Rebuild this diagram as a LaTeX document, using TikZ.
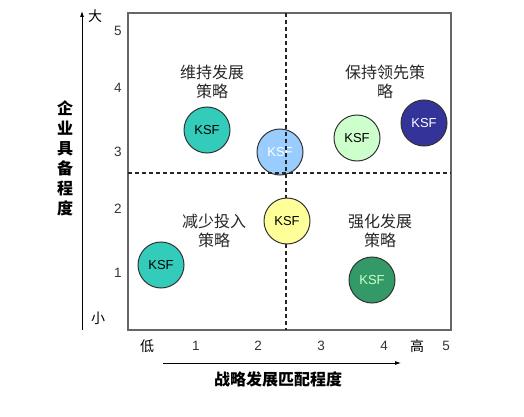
\documentclass[tikz,border=0pt]{standalone}
\usepackage{fontspec}
\setmainfont{Liberation Sans}
\newfontfamily\cjk{Noto Sans CJK SC}
\usetikzlibrary{arrows.meta}
\definecolor{tealk}{RGB}{51,204,187}
\definecolor{skyk}{RGB}{153,204,255}
\definecolor{mintk}{RGB}{204,255,204}
\definecolor{navyk}{RGB}{51,51,153}
\definecolor{lemonk}{RGB}{255,255,153}
\definecolor{forestk}{RGB}{51,153,102}

\begin{document}
\begin{tikzpicture}[x=1pt, y=-1pt,
    ksf/.style={circle, draw=black!80, line width=1pt, minimum size=46pt, inner sep=0pt,
        font=\fontsize{13}{13}\selectfont},
    tick/.style={font=\fontsize{13.5}{13.5}\selectfont, text=black!80},
    quad/.style={font=\cjk\fontsize{16}{19}\selectfont, align=center, text=black!85},
    ends/.style={font=\cjk\fontsize{14}{14}\selectfont},
    axis/.style={line width=0.8pt, -{Latex[length=6pt, width=4pt]}},
    split/.style={line width=1.2pt, dash pattern=on 4pt off 3pt, black!85}
]
    \useasboundingbox (0,0) rectangle (524,417);

    % frame of the matrix
    \draw[black!60, line width=1.3pt] (128,13) rectangle (451,330);

    \node[ksf, fill=skyk, text=white] (midtop) at (280,152) {KSF};

    \draw[split] (286,13) -- (286,330);
    \draw[split] (128,173) -- (451,173);

    % axes
    \coordinate (yfoot) at (82,330);
    \coordinate (yhead) at (82,11);
    \coordinate (xfoot) at (163,363);
    \coordinate (xhead) at (401,363);
    \draw[axis] (yfoot) -- (yhead);
    \draw[axis] (xfoot) -- (xhead);

    \node[ends] (big) at (95,16) {大};
    \node[ends] (small) at (98,318) {小};
    \node[ends] (low) at (147,346) {低};
    \node[ends] (high) at (417,346) {高};

    \node[font=\cjk\bfseries\fontsize{16}{20}\selectfont, align=center] (ylabel) at (65,158)
        {企\\业\\具\\备\\程\\度};
    \node[font=\cjk\bfseries\fontsize{16}{16}\selectfont] (xlabel) at (278,379) {战略发展匹配程度};

    % scale numbers
    \node[tick] (y5) at (118,31) {5};
    \node[tick] (y4) at (118,88) {4};
    \node[tick] (y3) at (118,152) {3};
    \node[tick] (y2) at (118,209) {2};
    \node[tick] (y1) at (118,273) {1};
    \node[tick] (x1) at (196,346) {1};
    \node[tick] (x2) at (258,346) {2};
    \node[tick] (x3) at (321,346) {3};
    \node[tick] (x4) at (384,346) {4};
    \node[tick] (x5) at (446,346) {5};

    % quadrants
    \node[quad] (keep) at (212,82) {维持发展\\策略};
    \node[quad] (lead) at (385,82) {保持领先策\\略};
    \node[quad] (cut) at (214,231) {减少投入\\策略};
    \node[quad] (push) at (380,231) {强化发展\\策略};

    \node[ksf, fill=tealk] (keepa) at (207,130) {KSF};
    \node[ksf, fill=mintk] (leada) at (357,138) {KSF};
    \node[ksf, fill=navyk, text=white] (leadb) at (424,123) {KSF};
    \node[ksf, fill=lemonk] (midlow) at (287,221) {KSF};
    \node[ksf, fill=tealk] (cuta) at (161,265) {KSF};
    \node[ksf, fill=forestk, text=mintk] (pusha) at (372,280) {KSF};
\end{tikzpicture}
\end{document}
